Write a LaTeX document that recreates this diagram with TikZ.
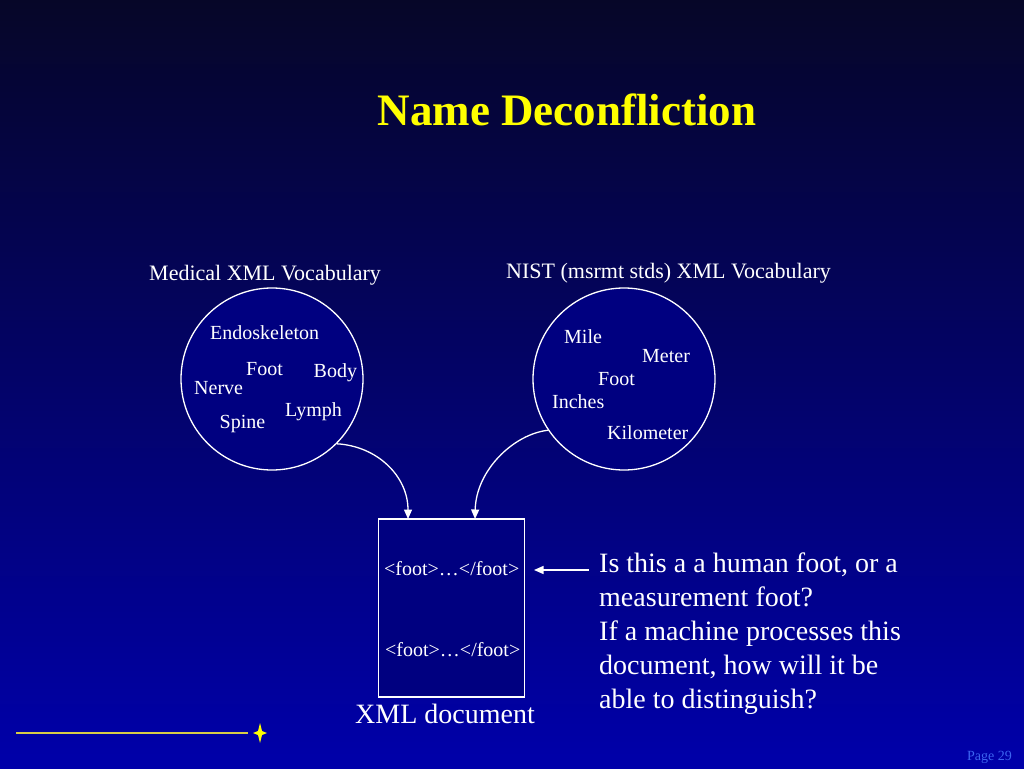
\documentclass[tikz,border=0pt]{standalone}
\usepackage{fontspec}
\setmainfont{Liberation Serif}
\usetikzlibrary{arrows.meta}
\definecolor{bgtop}{RGB}{6,6,40}
\definecolor{bgbot}{RGB}{0,0,170}
\definecolor{vocfill}{RGB}{0,0,128}
\definecolor{ttl}{RGB}{255,255,0}
\definecolor{rulec}{RGB}{215,205,70}
\definecolor{pagec}{RGB}{60,100,240}
\begin{document}
\begin{tikzpicture}[x=1pt,y=-1pt,
 word/.style={anchor=base west,inner sep=0pt,text=white,font=\fontsize{20}{24}\selectfont},
 vlabel/.style={anchor=base west,inner sep=0pt,text=white,font=\fontsize{22}{26}\selectfont},
 vocab/.style={circle,draw=white,line width=1.3pt,fill=vocfill,minimum size=182pt,inner sep=0pt},
 docbox/.style={draw=white,line width=1.3pt,fill=vocfill,minimum width=146pt,minimum height=178pt,inner sep=0pt},
 arr/.style={draw=white,line width=1.3pt,-{Triangle[width=8pt,length=9.5pt]}}]
\useasboundingbox (0,0) rectangle (1024,768);
\shade[top color=bgtop,bottom color=bgbot] (0,0) rectangle (1024,768);
% title
\node[anchor=base,inner sep=0pt,text=ttl,font=\fontsize{45}{54}\selectfont\bfseries] (title) at (567,125) {Name Deconfliction};
% vocab labels
\node[vlabel] (medlab) at (149,280) {Medical XML Vocabulary};
\node[vlabel] (nistlab) at (506,278) {NIST (msrmt stds) XML Vocabulary};
% circles
\node[vocab] (L) at (272,379) {};
\node[vocab] (R) at (624,379) {};
% words left
\node[word] (endo) at (210,339) {Endoskeleton};
\node[word] (footL) at (246,375) {Foot};
\node[word] (body) at (313.5,377) {Body};
\node[word] (nerve) at (194,394) {Nerve};
\node[word] (lymph) at (285,416) {Lymph};
\node[word] (spine) at (219.5,428.5) {Spine};
% words right
\node[word] (mile) at (564,343) {Mile};
\node[word] (meter) at (642,362) {Meter};
\node[word] (footR) at (598,385) {Foot};
\node[word] (inches) at (552,408) {Inches};
\node[word] (km) at (607,439) {Kilometer};
% document
\node[docbox] (doc) at (451.75,608) {};
\node[word] (foot1) at (384,575) {<foot>…</foot>};
\node[word] (foot2) at (385,656) {<foot>…</foot>};
\node[anchor=base west,inner sep=0pt,text=white,font=\fontsize{28}{34}\selectfont] (doclab) at (355,723) {XML document};
% connectors
\coordinate (a1) at (408,519);
\coordinate (a2) at (475,519);
\draw[arr] (L.-45) .. controls (377,446) and (408,476) .. (a1);
\draw[arr] (R.-146) .. controls (514,434) and (476,470) .. (a2);
% question
\node[anchor=base west,inner sep=0pt,text=white,align=left,font=\fontsize{28}{34}\selectfont] (q) at (599,708)
 {Is this a a human foot, or a\\measurement foot?\\If a machine processes this\\document, how will it be\\able to distinguish?};
\coordinate (qa) at (589,570);
\coordinate (qb) at (534,570);
\draw[arr] (qa) -- (qb);
% footer
\draw[rulec,line width=1.6pt] (16,733) -- (248,733);
\fill[ttl] (260,723) -- (262,731) -- (267,733) -- (262,735) -- (260,743) -- (258,735) -- (253,733) -- (258,731) -- cycle;
\node[anchor=base east,inner sep=0pt,text=pagec,font=\fontsize{14}{16}\selectfont] (page) at (1012,760) {Page 29};
\end{tikzpicture}
\end{document}
